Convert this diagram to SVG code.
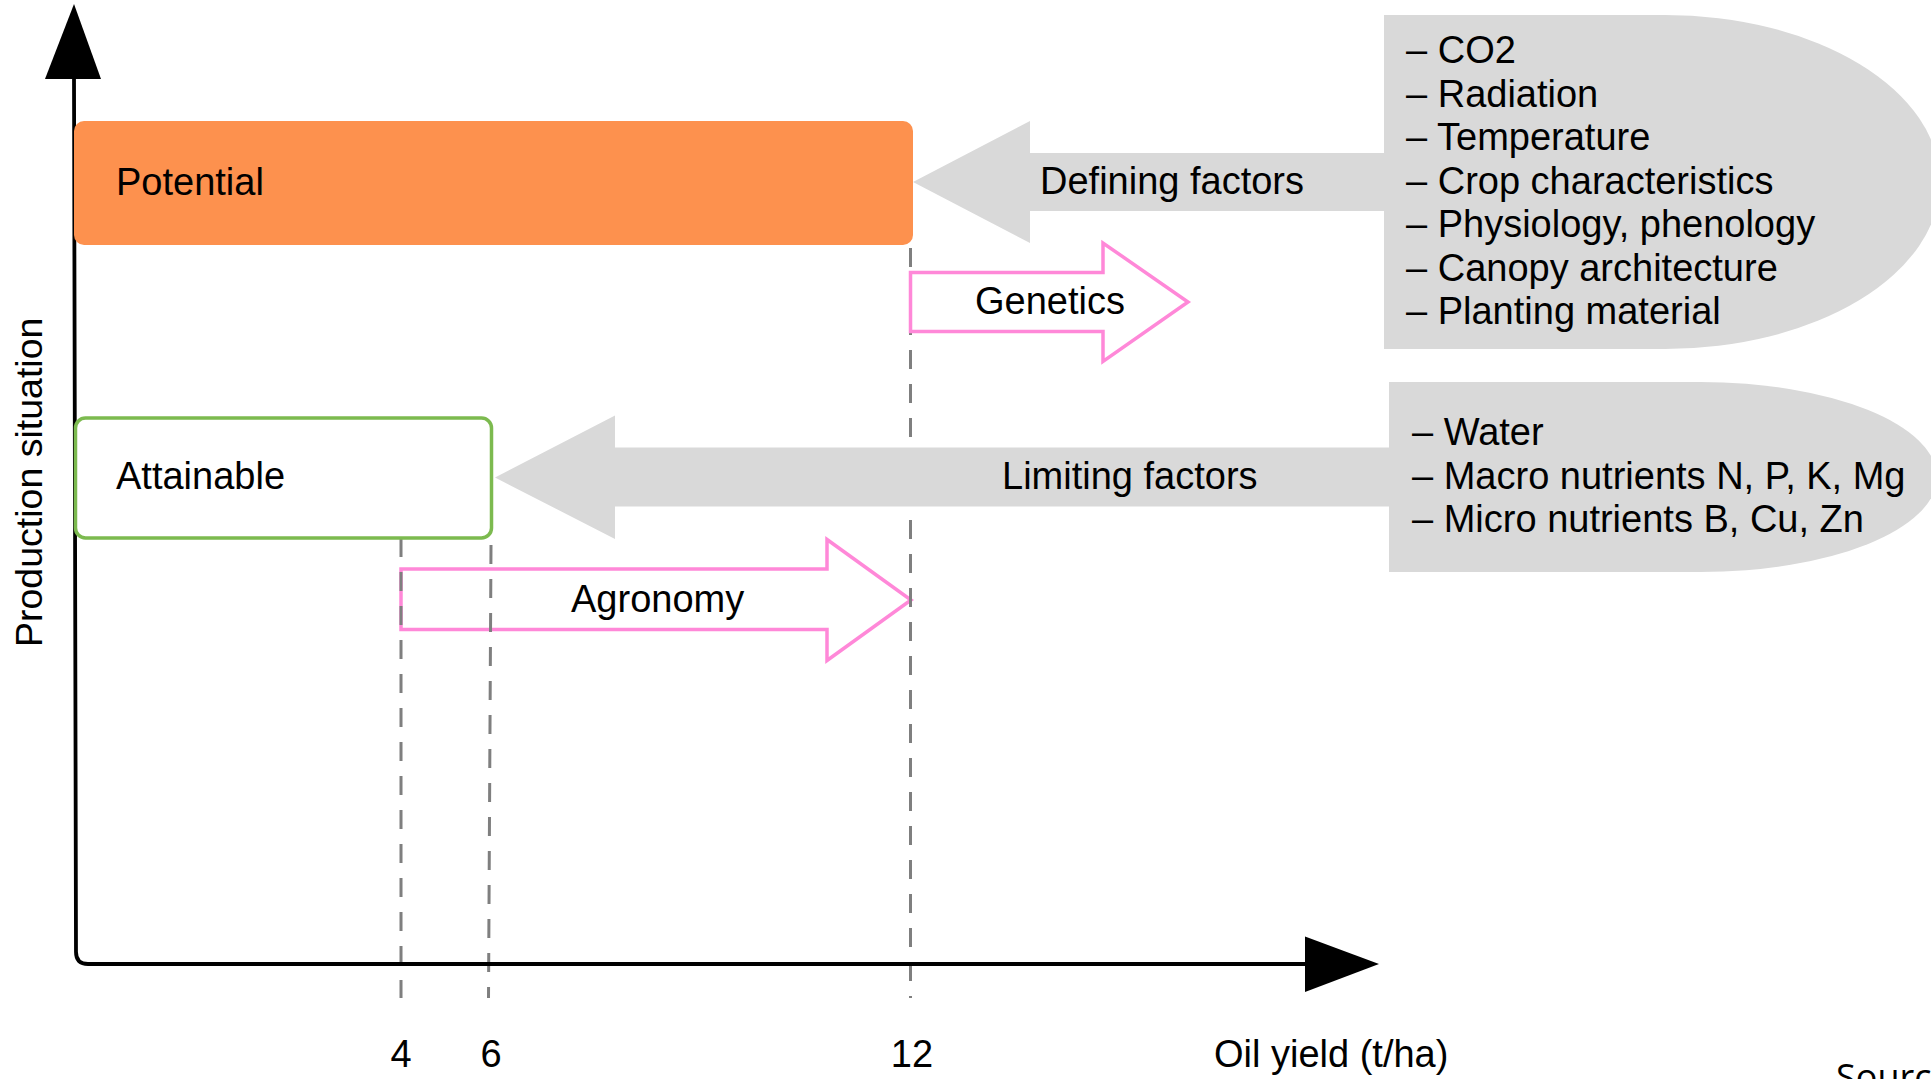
<svg xmlns="http://www.w3.org/2000/svg" width="1931" height="1079" viewBox="0 0 1931 1079">
  <style>
    .t { font-family: "Liberation Sans", Arial, sans-serif; font-size: 38px; fill: #000; }
    .gray { fill: #d9d9d9; stroke: none; }
    .pink { fill: #ffffff; stroke: #ff88d8; stroke-width: 3.5; stroke-linejoin: miter; }
    .dash { fill: none; stroke: #7f7f7f; stroke-width: 3; stroke-dasharray: 19 15; }
    .axis { fill: none; stroke: #000; stroke-width: 3.8; }
  </style>
  <rect width="1931" height="1079" fill="#ffffff"/>

  <g id="agronomy">
    <polygon class="pink" points="401,569 827,569 827,539.5 911,600 827,660.5 827,629.5 401,629.5"/>
    <text class="t" x="571" y="612">Agronomy</text>
  </g>

  <g id="connectors">
    <line class="dash" x1="401" y1="538" x2="401" y2="998"/>
    <line class="dash" x1="491" y1="545" x2="488.5" y2="998"/>
    <line class="dash" x1="910.5" y1="248" x2="910.5" y2="998"/>
    <path class="axis" d="M74,76 L76,952 Q76,964 88,964 L1308,964"/>
    <polygon points="74,4 45,79 101,79" fill="#000"/>
    <polygon points="1305,936.5 1379,964 1305,992" fill="#000"/>
  </g>

  <g id="genetics">
    <polygon class="pink" points="910.5,272.5 1103,272.5 1103,243 1188,302 1103,361.5 1103,331.5 910.5,331.5"/>
    <text class="t" x="975" y="314">Genetics</text>
  </g>

  <g id="potential">
    <rect x="74" y="121" width="839" height="124" rx="10" ry="10" fill="#fd914e"/>
    <text class="t" x="116" y="195">Potential</text>
  </g>

  <g id="attainable">
    <rect x="75.5" y="418" width="416" height="120" rx="10" ry="10" fill="#ffffff" stroke="#7cba4f" stroke-width="3.5"/>
    <text class="t" x="116" y="489">Attainable</text>
  </g>

  <g id="defining-factors">
    <path class="gray" d="M1384,15 H1665 A275,167 0 0 1 1665,349 H1384 Z"/>
    <polygon class="gray" points="913,182 1030,121 1030,153 1390,153 1390,211 1030,211 1030,243"/>
    <text class="t" x="1040" y="194">Defining factors</text>
    <text class="t" x="1406" y="63">– CO2</text>
    <text class="t" x="1406" y="106.5">– Radiation</text>
    <text class="t" x="1406" y="150">– Temperature</text>
    <text class="t" x="1406" y="193.5">– Crop characteristics</text>
    <text class="t" x="1406" y="237">– Physiology, phenology</text>
    <text class="t" x="1406" y="280.5">– Canopy architecture</text>
    <text class="t" x="1406" y="324">– Planting material</text>
  </g>

  <g id="limiting-factors">
    <path class="gray" d="M1389,382 H1700 A237,95 0 0 1 1700,572 H1389 Z"/>
    <polygon class="gray" points="495,477.5 615,415.5 615,447.5 1395,447.5 1395,506.5 615,506.5 615,539"/>
    <text class="t" x="1002" y="489">Limiting factors</text>
    <text class="t" x="1412" y="445">– Water</text>
    <text class="t" x="1412" y="488.5">– Macro nutrients N, P, K, Mg</text>
    <text class="t" x="1412" y="532">– Micro nutrients B, Cu, Zn</text>
  </g>

  <g id="axis-labels">
    <text class="t" x="42" y="647" transform="rotate(-90 42 647)" style="font-size:37.5px">Production situation</text>
    <text class="t" x="401" y="1067" text-anchor="middle">4</text>
    <text class="t" x="491" y="1067" text-anchor="middle">6</text>
    <text class="t" x="912" y="1067" text-anchor="middle">12</text>
    <text class="t" x="1214" y="1067">Oil yield (t/ha)</text>
    <text x="1836" y="1090" style="font-family: 'Open Sans', sans-serif; font-size: 36px; fill: #000;">Source</text>
  </g>
</svg>
